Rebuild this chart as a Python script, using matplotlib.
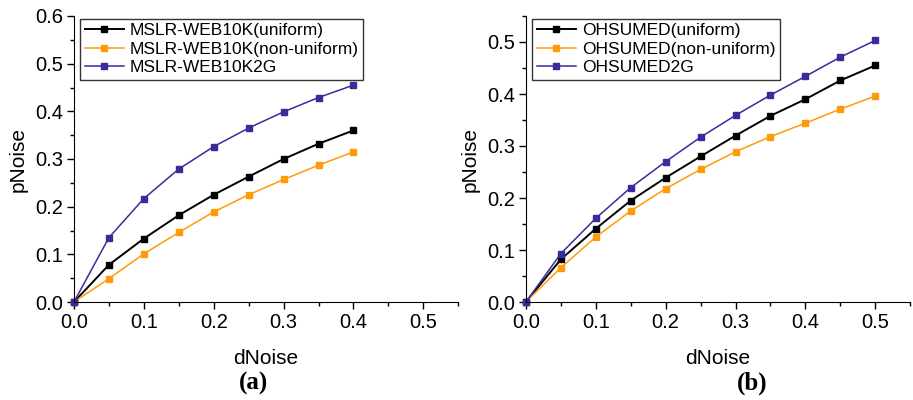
import matplotlib
matplotlib.use('Agg')
import matplotlib.pyplot as plt
from matplotlib.ticker import MultipleLocator

plt.rcParams['font.family'] = ['Liberation Sans', 'DejaVu Sans']

# --- data ---
d_mslr = [0.0, 0.05, 0.10, 0.15, 0.20, 0.25, 0.30, 0.35, 0.40]
mslr_uniform = [0.0, 0.078, 0.133, 0.182, 0.225, 0.263, 0.300, 0.332, 0.360]
mslr_nonuniform = [0.0, 0.049, 0.101, 0.146, 0.189, 0.225, 0.257, 0.287, 0.315]
mslr_2g = [0.0, 0.135, 0.217, 0.279, 0.326, 0.365, 0.399, 0.429, 0.455]

d_ohs = [0.0, 0.05, 0.10, 0.15, 0.20, 0.25, 0.30, 0.35, 0.40, 0.45, 0.50]
ohs_uniform = [0.0, 0.082, 0.141, 0.195, 0.239, 0.280, 0.320, 0.358, 0.390, 0.426, 0.455]
ohs_nonuniform = [0.0, 0.066, 0.125, 0.175, 0.218, 0.255, 0.289, 0.318, 0.344, 0.371, 0.396]
ohs_2g = [0.0, 0.093, 0.161, 0.220, 0.270, 0.317, 0.359, 0.398, 0.434, 0.471, 0.503]

BLACK, ORANGE, PURPLE = '#000000', '#FF9A0A', '#3A2A9C'

fig = plt.figure(figsize=(9.13, 4.0), dpi=100)
ax1 = fig.add_axes([0.081, 0.245, 0.421, 0.715])
ax2 = fig.add_axes([0.576, 0.245, 0.421, 0.715])


def style(ax, ymax):
    ax.set_xlim(0, 0.55)
    ax.set_ylim(0, ymax)
    ax.xaxis.set_major_locator(MultipleLocator(0.1))
    ax.xaxis.set_minor_locator(MultipleLocator(0.05))
    ax.yaxis.set_major_locator(MultipleLocator(0.1))
    ax.yaxis.set_minor_locator(MultipleLocator(0.05))
    ax.xaxis.set_major_formatter(matplotlib.ticker.FormatStrFormatter('%.1f'))
    ax.yaxis.set_major_formatter(matplotlib.ticker.FormatStrFormatter('%.1f'))
    ax.spines['top'].set_visible(False)
    ax.spines['right'].set_visible(False)
    ax.tick_params(which='major', direction='out', length=5, width=1, labelsize=14.5, pad=3)
    ax.tick_params(which='minor', direction='out', length=3, width=1)
    ax.set_xlabel('dNoise', fontsize=15, labelpad=12)
    ax.set_ylabel('pNoise', fontsize=15, labelpad=5)


mk = dict(marker='s', markersize=5, clip_on=False)

ax1.plot(d_mslr, mslr_uniform, color=BLACK, lw=1.4, label='MSLR-WEB10K(uniform)', **mk)
ax1.plot(d_mslr, mslr_nonuniform, color=ORANGE, lw=1.1, label='MSLR-WEB10K(non-uniform)', **mk)
ax1.plot(d_mslr, mslr_2g, color=PURPLE, lw=1.1, label='MSLR-WEB10K2G', **mk)
style(ax1, 0.6)

ax2.plot(d_ohs, ohs_uniform, color=BLACK, lw=1.4, label='OHSUMED(uniform)', **mk)
ax2.plot(d_ohs, ohs_nonuniform, color=ORANGE, lw=1.1, label='OHSUMED(non-uniform)', **mk)
ax2.plot(d_ohs, ohs_2g, color=PURPLE, lw=1.1, label='OHSUMED2G', **mk)
style(ax2, 0.55)

for ax in (ax1, ax2):
    leg = ax.legend(loc='upper left', bbox_to_anchor=(0.01, 1.0), fontsize=12.5,
                    frameon=True, fancybox=False, edgecolor='black',
                    borderpad=0.25, labelspacing=0.2, handlelength=2.25,
                    handletextpad=0.35, borderaxespad=0.15)
    leg.get_frame().set_linewidth(1.0)

fig.text(0.278, 0.042, '(a)', ha='center', va='center', fontsize=18, fontweight='bold',
         family='Liberation Serif')
fig.text(0.824, 0.042, '(b)', ha='center', va='center', fontsize=18, fontweight='bold',
         family='Liberation Serif')

fig.savefig('out.png', dpi=100)
